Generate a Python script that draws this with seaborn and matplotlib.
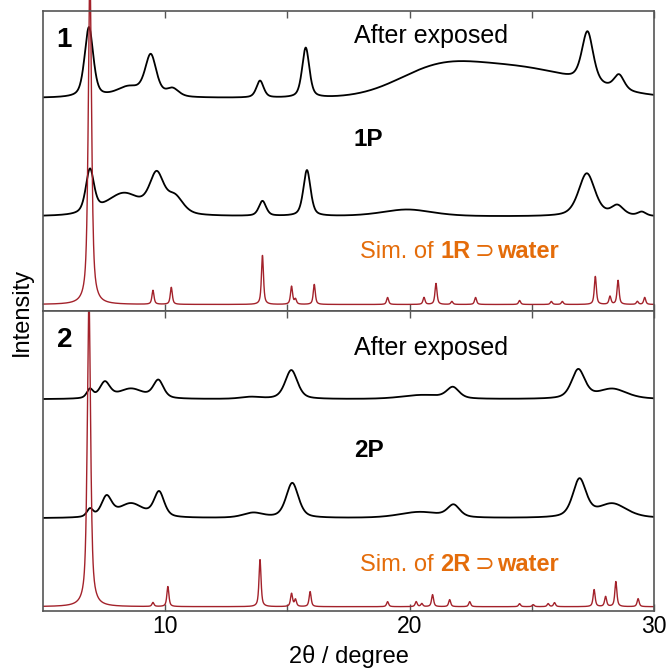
import numpy as np
import pandas as pd
import matplotlib
matplotlib.use("Agg")
import matplotlib.pyplot as plt
import seaborn as sns

# ---------------------------------------------------------------------------
# Powder XRD patterns (2θ from 5 to 30°).  Each trace is described by its
# baseline level and a list of reflections: position (°2θ), height, FWHM (°).
# Heights are in plot units of the stacked panel (offset traces).
# ---------------------------------------------------------------------------
tt_min, tt_max = 5.0, 30.0

# ---- compound 1 -----------------------------------------------------------
exp1_base = 213.0
exp1_pos = [6.88, 8.50, 9.41, 10.30, 13.88, 15.75, 27.28, 28.57]
exp1_height = [70, 10, 41, 8, 17, 50, 51, 15]
exp1_fwhm = [0.42, 1.20, 0.55, 0.60, 0.35, 0.35, 0.55, 0.50]
# broad amorphous halo
exp1_halo_pos = [21.0, 24.3]
exp1_halo_height = [20, 30]
exp1_halo_fwhm = [3.8, 6.1]

p1_base = 94.3
p1_pos = [6.92, 8.30, 9.65, 10.40, 13.98, 15.80, 19.90, 27.25, 28.50, 29.50]
p1_height = [43, 22, 38, 17, 15, 46, 7, 43, 10, 4]
p1_fwhm = [0.40, 1.70, 0.70, 0.80, 0.35, 0.35, 2.50, 0.80, 0.60, 0.40]

sim1_base = 6.5
sim1_pos = [6.92, 9.50, 10.25, 13.98, 15.17, 15.33, 16.10, 19.10, 20.59,
            21.08, 21.73, 22.70, 24.50, 25.80, 26.25, 27.60, 28.20, 28.53,
            29.32, 29.62]
sim1_height = [330, 14, 17, 49, 18, 5, 20, 7, 7, 21, 3, 7, 4, 3, 3, 28, 8,
               24, 3, 7]
sim1_fwhm = [0.16] + [0.10] * 19

# ---- compound 2 -----------------------------------------------------------
exp2_base = 211.7
exp2_pos = [6.92, 7.53, 8.60, 9.72, 13.50, 15.16, 20.50, 21.77, 26.90, 28.30]
exp2_height = [9, 16, 10, 18, 2, 29, 4, 11, 29, 10]
exp2_fwhm = [0.30, 0.50, 1.20, 0.50, 1.00, 0.60, 2.00, 0.60, 0.65, 1.40]

p2_base = 92.7
p2_pos = [6.92, 7.60, 8.60, 9.75, 13.60, 15.20, 20.40, 21.80, 26.95, 28.30]
p2_height = [8, 20, 14, 25, 5, 35, 6, 12, 38, 14]
p2_fwhm = [0.30, 0.50, 1.20, 0.50, 1.00, 0.60, 2.00, 0.60, 0.65, 1.40]

sim2_base = 4.3
sim2_pos = [6.88, 9.50, 10.11, 13.88, 15.17, 15.33, 15.93, 19.10, 20.27,
            20.50, 20.94, 21.64, 22.46, 24.50, 25.06, 25.67, 25.93, 27.55,
            28.02, 28.44, 29.35]
sim2_height = [310, 4, 20, 47, 13, 7, 15, 5, 5, 3, 12, 7, 5, 3, 2, 3, 4, 17,
               10, 25, 8]
sim2_fwhm = [0.16] + [0.10] * 20

x_ticks = [10, 15, 20, 25, 30]
x_ticklabels = ["10", "", "20", "", "30"]

exp_color = "black"
sim_color = "#A3222B"
sim_text_color = "#E46C0A"
frame_color = "#555555"


def pattern(x, base, pos, height, fwhm, eta):
    """Pseudo-Voigt sum of reflections on a flat baseline."""
    y = np.full_like(x, base, dtype=float)
    for p, h, w in zip(pos, height, fwhm):
        d = (x - p) / (w / 2.0)
        y += h * (eta / (1.0 + d ** 2) + (1 - eta) * np.exp(-np.log(2) * d ** 2))
    return y


tt = np.arange(tt_min, tt_max + 1e-9, 0.01)

traces = {
    ("1", "exposed"): pattern(tt, exp1_base, exp1_pos, exp1_height, exp1_fwhm, 0.5)
    + pattern(tt, 0.0, exp1_halo_pos, exp1_halo_height, exp1_halo_fwhm, 0.0),
    ("1", "P"): pattern(tt, p1_base, p1_pos, p1_height, p1_fwhm, 0.5),
    ("1", "sim"): pattern(tt, sim1_base, sim1_pos, sim1_height, sim1_fwhm, 0.7),
    ("2", "exposed"): pattern(tt, exp2_base, exp2_pos, exp2_height, exp2_fwhm, 0.5),
    ("2", "P"): pattern(tt, p2_base, p2_pos, p2_height, p2_fwhm, 0.5),
    ("2", "sim"): pattern(tt, sim2_base, sim2_pos, sim2_height, sim2_fwhm, 0.7),
}

frames = []
for (comp, kind), y in traces.items():
    frames.append(pd.DataFrame({"two_theta": tt, "intensity": y,
                                "compound": comp, "kind": kind}))
df = pd.concat(frames, ignore_index=True)

sns.set_theme(style="ticks")
plt.rcParams["font.family"] = ["Liberation Sans", "DejaVu Sans"]
plt.rcParams["text.color"] = "black"

W = H = 672
fig = plt.figure(figsize=(6.72, 6.72), dpi=100)
ax1 = fig.add_axes([43 / W, 1 - 311 / H, 611 / W, 300 / H])
ax2 = fig.add_axes([43 / W, 1 - 611 / H, 611 / W, 300 / H], sharex=ax1)

for ax, comp in [(ax1, "1"), (ax2, "2")]:
    sub = df[df["compound"] == comp]
    for kind in ["exposed", "P"]:
        sns.lineplot(data=sub[sub["kind"] == kind], x="two_theta", y="intensity",
                     ax=ax, color=exp_color, lw=1.3, estimator=None)
    sns.lineplot(data=sub[sub["kind"] == "sim"], x="two_theta", y="intensity",
                 ax=ax, color=sim_color, lw=1.0, estimator=None)
    ax.set_xlim(tt_min, tt_max)
    ax.set_ylim(0, 300)
    ax.set_yticks([])
    ax.set_xlabel("")
    ax.set_ylabel("")
    ax.set_xticks(x_ticks)
    ax.tick_params(axis="x", which="both", direction="in", top=True,
                   bottom=True, length=5, width=1.0, color=frame_color,
                   labelcolor="black", labelsize=16.5, pad=3)
    for s in ax.spines.values():
        s.set_visible(True)
        s.set_color(frame_color)
        s.set_linewidth(1.2)

# the strongest simulated reflection of 1 runs past the top frame
ax1.lines[-1].set_clip_on(False)
ax1.tick_params(axis="x", labelbottom=False)
ax2.set_xticklabels(x_ticklabels)

# panel labels and trace annotations
label_cfg = [
    (ax1, "1", 264.3, 267.7, "1P", 165.0, 52.7, "1R"),
    (ax2, "2", 264.3, 256.0, "2P", 154.3, 40.3, "2R"),
]
for ax, tag, tag_y, exp_y, p_lbl, p_y, sim_y, host in label_cfg:
    ax.text(5.56, tag_y, tag, fontsize=20, fontweight="bold", ha="left",
            va="baseline", color="black")
    ax.text(17.72, exp_y, "After exposed", fontsize=18, ha="left",
            va="baseline", color="black")
    ax.text(17.72, p_y, p_lbl, fontsize=17.5, fontweight="bold", ha="left",
            va="baseline", color="black")
    t = ax.text(17.98, sim_y, "Sim. of ", fontsize=17, color=sim_text_color,
                ha="left", va="baseline")
    t_host = ax.annotate(host, xy=(1, 0), xycoords=t, fontsize=17,
                         fontweight="bold", color=sim_text_color,
                         ha="left", va="bottom")
    t_sup = ax.annotate("\u2283", xy=(1, 0), xycoords=t_host,
                        xytext=(3, 0), textcoords="offset points",
                        fontsize=17, family="DejaVu Sans",
                        color=sim_text_color, ha="left", va="bottom")
    ax.annotate("water", xy=(1, 0), xycoords=t_sup, xytext=(2, 0),
                textcoords="offset points", fontsize=17, fontweight="bold",
                color=sim_text_color, ha="left", va="bottom")

fig.text(348.5 / W, 1 - 663 / H, "2\u03b8 / degree", fontsize=17,
         ha="center", va="baseline", color="black")
fig.text(33 / W, 1 - 312 / H, "Intensity", fontsize=17, rotation=90,
         ha="right", va="center", color="black")

fig.savefig("out.png", dpi=100)
